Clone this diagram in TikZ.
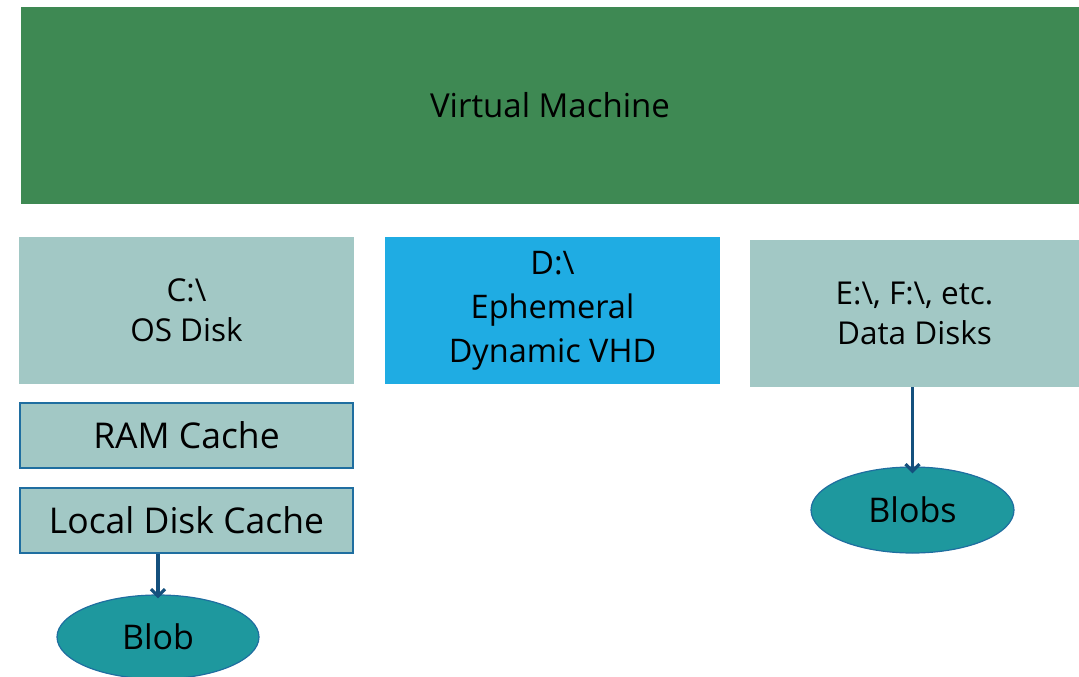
\documentclass[tikz,border=0pt]{standalone}
\usepackage{fontspec}
\setmainfont{Open Sans}
\usetikzlibrary{arrows.meta,shapes.geometric}
\definecolor{vmgreen}{RGB}{62,137,83}
\definecolor{diskteal}{RGB}{162,200,197}
\definecolor{ephblue}{RGB}{31,172,227}
\definecolor{blobteal}{RGB}{30,152,158}
\definecolor{edgeblue}{RGB}{31,110,160}
\definecolor{arrowblue}{RGB}{20,80,125}
\tikzset{
  box/.style={fill=#1, draw=none, inner sep=0pt, align=center, font=\fontsize{31.5}{40}\selectfont},
  cachebox/.style={fill=diskteal, draw=edgeblue, line width=1.2pt, inner sep=0pt, align=center, font=\fontsize{35.5}{40}\selectfont},
  blob/.style={ellipse, fill=blobteal, draw=edgeblue, line width=1.2pt, inner sep=0pt, font=\fontsize{34}{38}\selectfont},
  link/.style={draw=arrowblue, line width=3.2pt, -{Straight Barb[length=7pt,width=14pt]}},
}
\begin{document}
\begin{tikzpicture}[x=1pt,y=-1pt]
\useasboundingbox (0,0) rectangle (1079,677);
\node[box=vmgreen, minimum width=1058pt, minimum height=197pt, font=\fontsize{33}{38}\selectfont] (vm) at (550,105.5) {Virtual Machine};
\node[box=diskteal, minimum width=335pt, minimum height=147pt] (c) at (186.5,310.5) {C:\textbackslash\\OS Disk};
\node[box=ephblue, minimum width=335pt, minimum height=147pt, font=\fontsize{32.5}{44}\selectfont] (d) at (552.5,310.5) {D:\textbackslash\\Ephemeral\\Dynamic VHD};
\node[box=diskteal, minimum width=329pt, minimum height=147pt] (e) at (914.5,313.5) {E:\textbackslash, F:\textbackslash, etc.\\Data Disks};
\node[cachebox, minimum width=333pt, minimum height=65pt] (ram) at (186.5,435.5) {RAM Cache};
\node[cachebox, minimum width=333pt, minimum height=65pt] (ldc) at (186.5,520.5) {Local Disk Cache};
\node[blob, minimum width=202pt, minimum height=84pt] (blob) at (158,637) {Blob};
\node[blob, minimum width=203pt, minimum height=86pt] (blobs) at (912.5,510) {Blobs};
\draw[link] (ldc.south -| blob.north) -- ([yshift=-4pt]blob.north);
\draw[link] (e.south -| blobs.north) -- ([yshift=-7pt]blobs.north);
\end{tikzpicture}
\end{document}
